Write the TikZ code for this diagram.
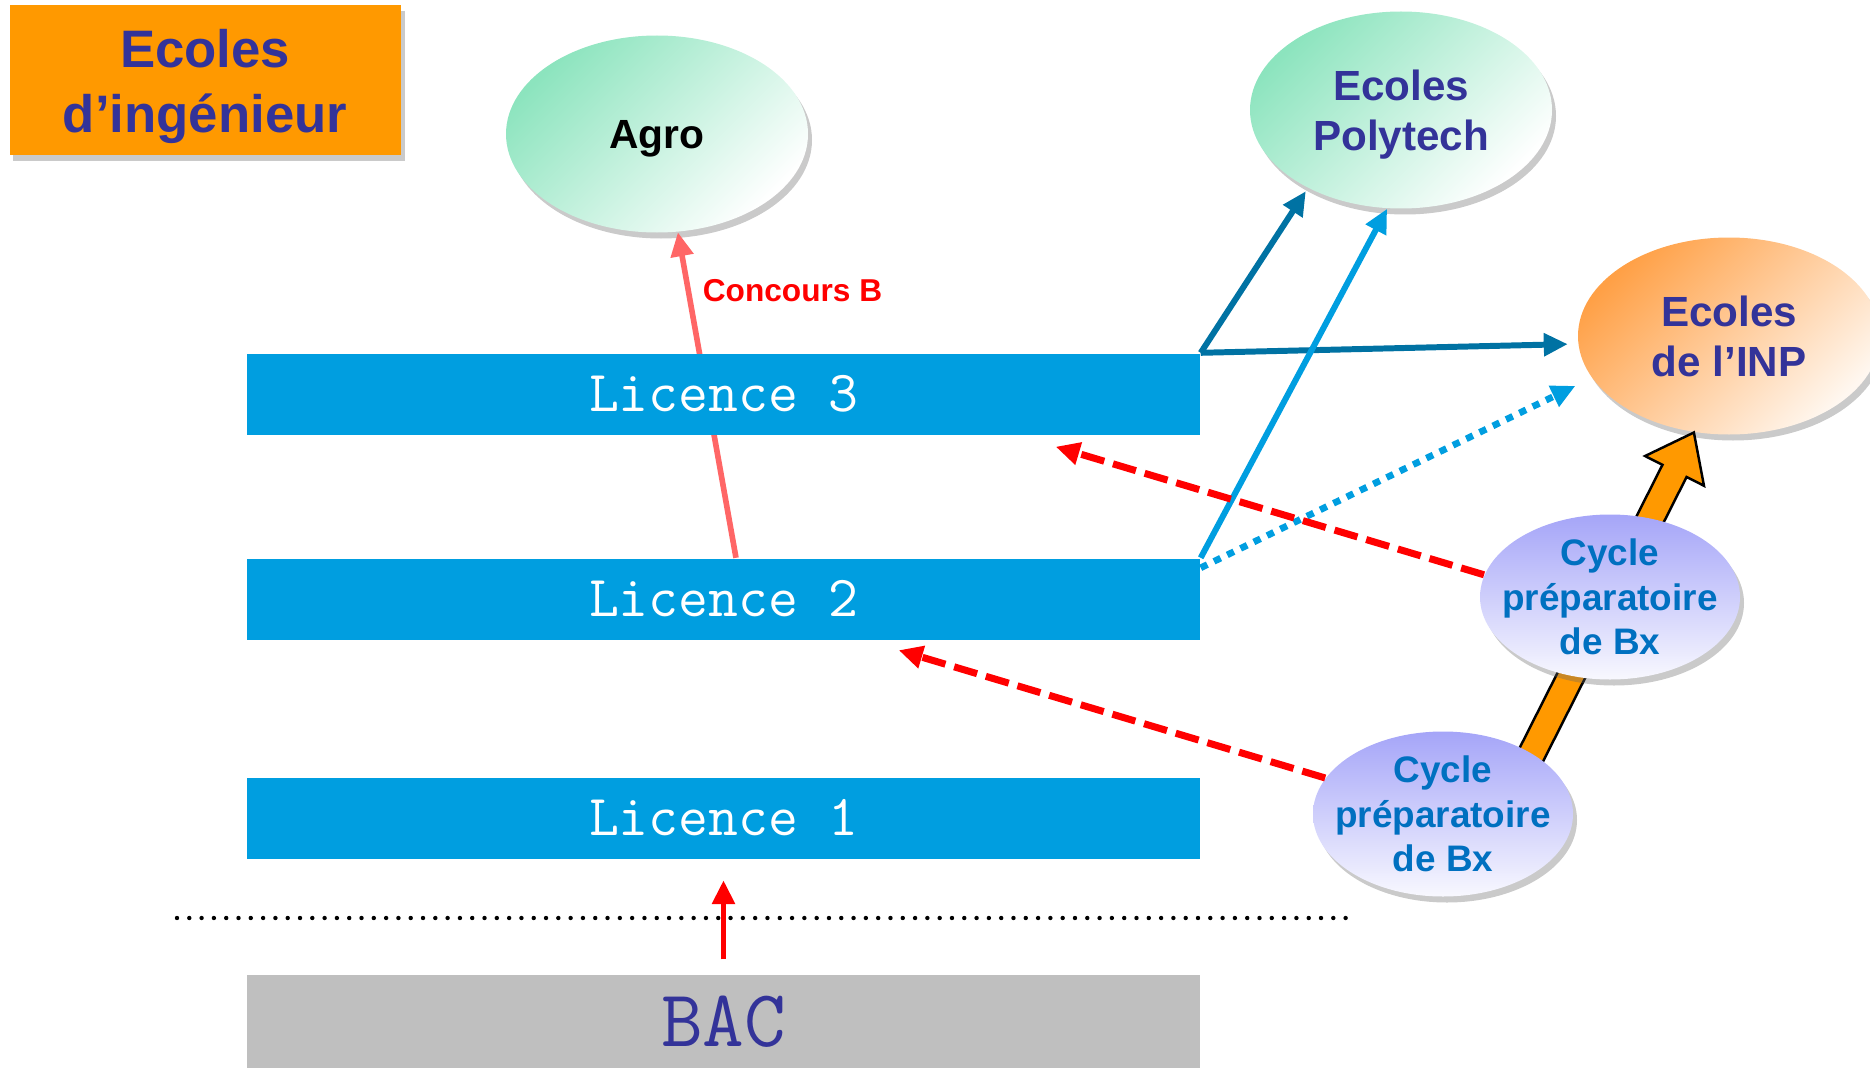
\documentclass[tikz,border=0pt]{standalone}
\usepackage{fontspec}
\setmainfont{Liberation Sans}
\usetikzlibrary{positioning, shapes.geometric, shadows, arrows.meta, calc}

\definecolor{licblue}{RGB}{0,158,224}
\definecolor{darkarrow}{RGB}{0,114,163}
\definecolor{navytext}{RGB}{51,51,153}
\definecolor{prepatext}{RGB}{0,112,192}
\definecolor{titleorange}{RGB}{255,153,0}
\definecolor{mint}{RGB}{140,228,190}
\definecolor{peach}{RGB}{255,160,70}
\definecolor{lavender}{RGB}{165,165,248}
\definecolor{concoursred}{RGB}{255,102,102}
\definecolor{bacgray}{RGB}{191,191,191}

\begin{document}
\begin{tikzpicture}[>={Triangle[length=0.24cm,width=0.22cm]},
      shadowed/.style={drop shadow={shadow xshift=0.04cm, shadow yshift=-0.06cm, opacity=0.35, fill=black!60}},
      titlebox/.style={rectangle, fill=titleorange, minimum width=3.91cm, minimum height=1.49cm, shadowed},
      titletext/.style={align=center, text=navytext, font=\bfseries\fontsize{15}{18.4}\selectfont},
      licbox/.style={rectangle, fill=licblue, minimum width=9.53cm, minimum height=0.81cm,
        inner sep=0pt, text=white, font=\ttfamily\fontsize{16.5}{19}\selectfont},
      schoolnode/.style={ellipse, minimum width=3.02cm, minimum height=1.97cm, inner sep=0pt,
        align=center, text=navytext, font=\bfseries\fontsize{12}{14.2}\selectfont, shadowed},
      greenfill/.style={top color=mint, bottom color=white, shading angle=45},
      orangefill/.style={top color=peach, bottom color=peach!8, shading angle=45},
      prepa/.style={ellipse, minimum width=2.6cm, minimum height=1.65cm, inner sep=-0.2cm,
        align=center, top color=lavender, bottom color=lavender!8, text=prepatext,
        font=\bfseries\fontsize{10.5}{12.7}\selectfont, shadowed},
      toschool/.style={->, line width=1.7pt},
      dashedred/.style={->, red, line width=2pt, dash pattern=on 6.8pt off 2.6pt}]
      \useasboundingbox (0,0) rectangle (18.70,10.67);
      % title and schools
      \node[titlebox, label={[titletext, yshift=-0.065cm]center:Ecoles\\d’ingénieur}] (title) at (2.05,9.87) {};
      \node[schoolnode, greenfill, text=black, font=\bfseries\fontsize{11.6}{14}\selectfont,
        text depth=0pt] (agro) at (6.57,9.33) {Agro};
      \node[schoolnode, greenfill, label={[text=navytext, align=center, font=\bfseries\fontsize{12}{14.2}\selectfont,
        yshift=-0.05cm]center:Ecoles\\Polytech}] (poly) at (14.01,9.57) {};
      \node[schoolnode, orangefill] (inp) at (17.29,7.31) {Ecoles\\de l’INP};
      % licence years, BAC
      \node[licbox] (l_2) at (7.235,4.68) {Licence 2};
      \node[licbox] (l_1) at (7.235,2.49) {Licence 1};
      \node[rectangle, fill=bacgray, minimum width=9.53cm, minimum height=0.94cm, inner sep=0pt,
        text=navytext, font=\ttfamily\fontsize{23}{26}\selectfont] (bac) at (7.235,0.45) {BAC};
      \draw[->, concoursred, line width=1.6pt] ([xshift=0.125cm]l_2.north) -- (agro.-78)
        node[pos=0.82, right, text=red, font=\bfseries\fontsize{9}{11}\selectfont] {Concours B};
      \node[licbox] (l_3) at (7.235,6.73) {Licence 3};
      % bac line
      \draw[line width=1.25pt, dash pattern=on 0pt off 3.5pt, line cap=round] (1.77,1.49) -- (13.48,1.49);
      \draw[->, red, line width=1.7pt, shorten <=0.15cm, shorten >=0.21cm] (bac.north) -- (l_1.south);
      % towards the schools
      \draw[toschool, darkarrow, shorten >=1pt] (l_3.north east) -- (poly.220);
      \draw[toschool, darkarrow, shorten >=0.1cm] (l_3.north east) -- (inp.183);
      \draw[toschool, licblue] (l_2.north east) -- (poly.262);
      \draw[toschool, licblue, line width=1.9pt, dash pattern=on 2.1pt off 2.1pt, shorten >=0.18cm]
        ([yshift=-0.1cm]l_2.north east) -- (inp.197);
      % prepa -> INP
      \coordinate (fat_tail) at (15.13,2.76);
      \coordinate (fat_tip) at (inp.250);
      \coordinate (fat_base) at ($(fat_tip)!0.43cm!(fat_tail)$);
      \filldraw[fill=titleorange, draw=black, line width=0.7pt]
        ($(fat_tail)!0.135cm!90:(fat_tip)$) -- ($(fat_base)!0.135cm!90:(fat_tip)$)
        -- ($(fat_base)!0.33cm!90:(fat_tip)$) -- (fat_tip)
        -- ($(fat_base)!0.33cm!-90:(fat_tip)$) -- ($(fat_base)!0.135cm!-90:(fat_tip)$)
        -- ($(fat_tail)!0.135cm!-90:(fat_tip)$) -- cycle;
      \node[prepa] (cyc_2) at (16.10,4.70) {Cycle\\préparatoire\\de Bx};
      \node[prepa] (cyc_1) at (14.43,2.53) {Cycle\\préparatoire\\de Bx};
      % prepa -> licence
      \coordinate (l3tip) at ([xshift=-1.45cm, yshift=-0.115cm]l_3.south east);
      \coordinate (l2tip) at ([xshift=-3.02cm, yshift=-0.1cm]l_2.south east);
      \draw[dashedred] (cyc_2.170) -- (l3tip);
      \draw[dashedred] (cyc_1.163) -- (l2tip);
  \end{tikzpicture}
\end{document}
